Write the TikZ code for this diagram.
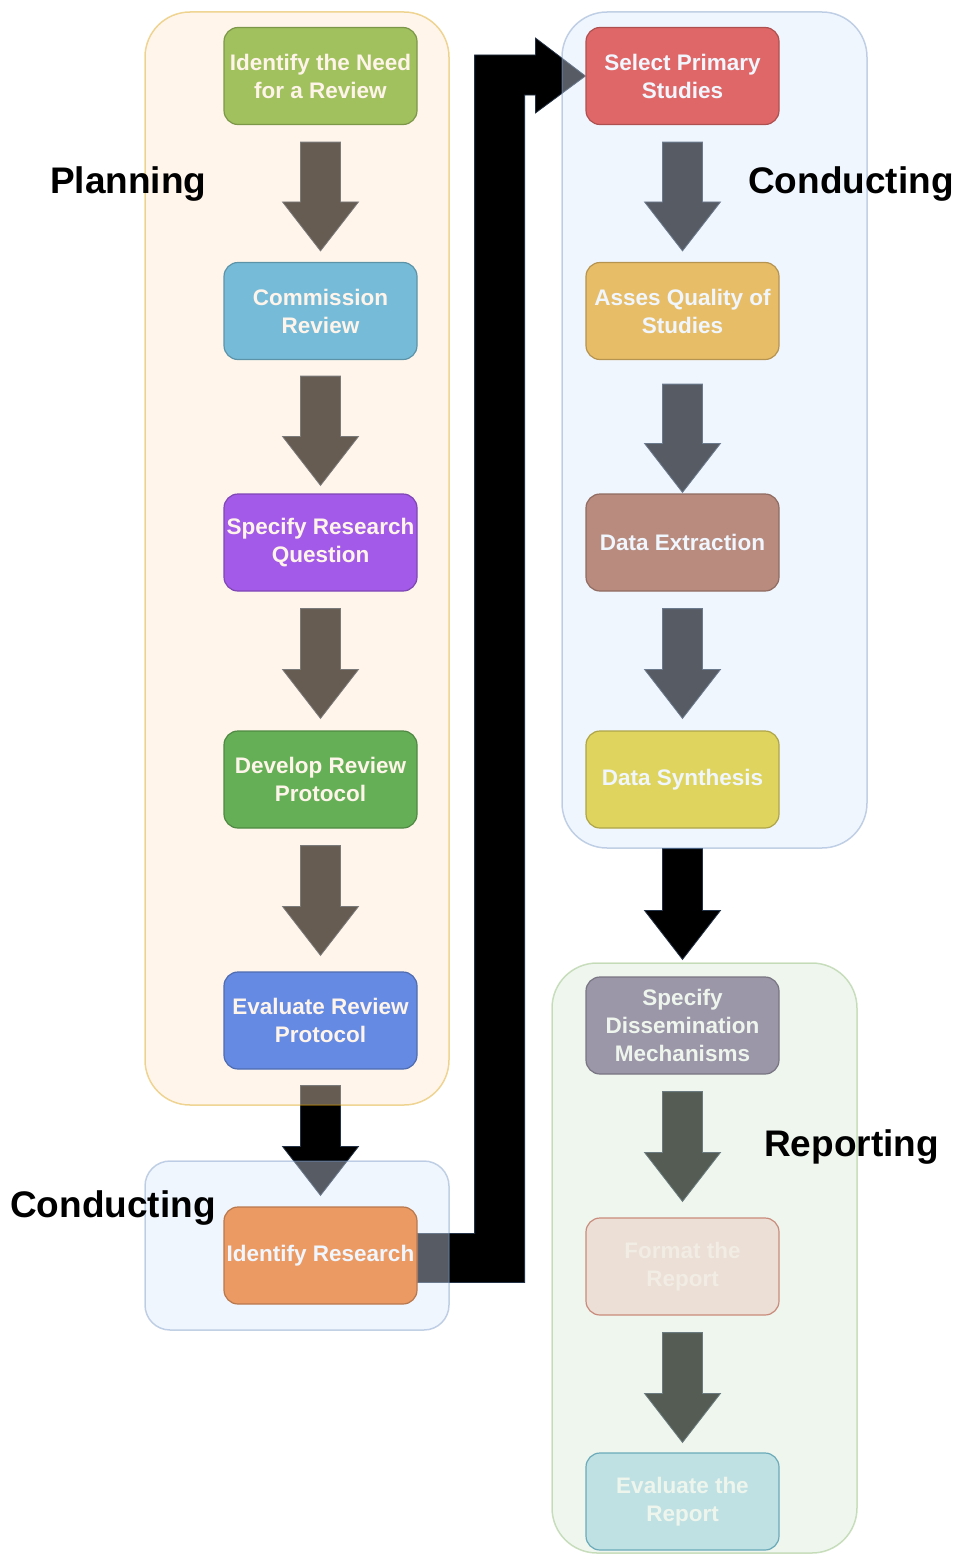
\documentclass[tikz,border=0pt]{standalone}
\usepackage{fontspec}
\newfontfamily\lsans{Liberation Sans}
\usetikzlibrary{calc}
\pgfdeclarelayer{arrowlayer}
\pgfdeclarelayer{grouplayer}
\pgfsetlayers{arrowlayer,grouplayer,main}

% group backgrounds
\definecolor{planfill}{HTML}{FFE6CC}\definecolor{planedge}{HTML}{D79B00}
\definecolor{condfill}{HTML}{DAE8FC}\definecolor{condedge}{HTML}{6C8EBF}
\definecolor{repfill}{HTML}{D5E8D4}\definecolor{repedge}{HTML}{82B366}
% step boxes
\definecolor{cneed}{HTML}{A0C15E}
\definecolor{ccomm}{HTML}{76BCD9}
\definecolor{cspec}{HTML}{A35AE8}
\definecolor{cdev}{HTML}{65B056}
\definecolor{ceval}{HTML}{658AE3}
\definecolor{cidr}{HTML}{EC9A63}
\definecolor{csel}{HTML}{E06767}
\definecolor{cqual}{HTML}{E8BD67}
\definecolor{cext}{HTML}{B88B7E}
\definecolor{csyn}{HTML}{DFD45E}
\definecolor{cdis}{HTML}{9B96A8}
\definecolor{cfmt}{HTML}{ECDFD6}\definecolor{cfmtedge}{HTML}{C98B7B}
\definecolor{cevr}{HTML}{BFE1E3}\definecolor{cevredge}{HTML}{6AAAB9}
% text tints
\definecolor{tplan}{HTML}{FFF4EA}
\definecolor{tcond}{HTML}{F0F6FE}
\definecolor{trep}{HTML}{EEF5ED}
\definecolor{tfmt}{HTML}{F1ECE4}
\definecolor{arrowedge}{RGB}{35,50,70}

\newcommand\boxfont{\lsans\bfseries\fontsize{22.5}{28}\selectfont}
\newcommand\phasefont{\lsans\bfseries\fontsize{37}{44}\selectfont}

\tikzset{
  stepbox/.style={rounded corners=14pt, minimum width=193pt, minimum height=97pt,
    inner sep=0pt, align=center, font=\boxfont, line width=1.2pt},
  tinted/.style={stepbox, fill=#1, draw=#1!78!black},
  blockarrow/.style={fill=black, draw=arrowedge, line width=0.8pt, line join=miter},
  group/.style={opacity=0.4, line width=1.5pt},
  phase/.style={font=\phasefont, text=black, inner sep=0pt, anchor=base west}
}

% vertical block arrow: from node, to node, gap below the first, gap above the second
\newcommand\stagearrow[4]{%
  \filldraw[blockarrow] let \p1=($(#1.south)+(0,#3)$), \p2=($(#2.north)+(0,-#4)$) in
    ({\x1-20pt},\y1) -- ({\x1+20pt},\y1) -- ({\x1+20pt},{\y2+49pt})
    -- ({\x1+38pt},{\y2+49pt}) -- (\x1,\y2) -- ({\x1-38pt},{\y2+49pt})
    -- ({\x1-20pt},{\y2+49pt}) -- cycle;}

\begin{document}
\begin{tikzpicture}[x=1pt,y=-1pt]
\useasboundingbox (0,0) rectangle (956,1555);

% ---- planning steps
\node[tinted=cneed, text=tplan] (need) at (320.5,76) {Identify the Need\\for a Review};
\node[tinted=ccomm, text=tplan] (comm) at (320.5,311) {Commission\\Review};
\node[tinted=cspec, text=tplan] (spec) at (320.5,542.5) {Specify Research\\Question};
\node[tinted=cdev,  text=tplan] (dev)  at (320.5,779.5) {Develop Review\\Protocol};
\node[tinted=ceval, text=tplan] (eval) at (320.5,1020.5) {Evaluate Review\\Protocol};
\node[tinted=cidr,  text=tcond] (idr)  at (320.5,1255.5) {Identify Research};

% ---- conducting steps
\node[tinted=csel,  text=tcond] (sel)  at (682.5,76) {Select Primary\\Studies};
\node[tinted=cqual, text=tcond] (qual) at (682.5,311) {Asses Quality of\\Studies};
\node[tinted=cext,  text=tcond] (ext)  at (682.5,542.5) {Data Extraction};
\node[tinted=csyn,  text=tcond] (syn)  at (682.5,779.5) {Data Synthesis};

% ---- reporting steps
\node[tinted=cdis, text=trep] (dis) at (682.5,1025.5) {Specify\\Dissemination\\Mechanisms};
\node[stepbox, fill=cfmt, draw=cfmtedge, text=tfmt] (fmt) at (682.5,1266.5) {Format the\\Report};
\node[stepbox, fill=cevr, draw=cevredge, text=trep] (evr) at (682.5,1501.5) {Evaluate the\\Report};

% ---- phase titles
\node[phase] (tplanning) at (50,193) {Planning};
\node[phase] (tcondtop) at (748,193) {Conducting};
\node[phase] (tcondbot) at (10,1217) {Conducting};
\node[phase] (treport) at (764,1156) {Reporting};

% ---- phase groups, translucent over the arrows
\begin{pgfonlayer}{grouplayer}
  \draw[group, fill=planfill, draw=planedge, rounded corners=45pt] (145,12) rectangle (449,1105);
  \draw[group, fill=condfill, draw=condedge, rounded corners=45pt] (562,12) rectangle (867,848);
  \draw[group, fill=condfill, draw=condedge, rounded corners=25pt] (145,1161) rectangle (449,1330);
  \draw[group, fill=repfill, draw=repedge, rounded corners=45pt] (552,963) rectangle (857,1553);
\end{pgfonlayer}

% ---- arrows
\begin{pgfonlayer}{arrowlayer}
  \stagearrow{need}{comm}{17}{11}
  \stagearrow{comm}{spec}{16}{8}
  \stagearrow{spec}{dev}{17}{12}
  \stagearrow{dev}{eval}{17}{16}
  \stagearrow{eval}{idr}{16}{11}
  \stagearrow{sel}{qual}{17}{11}
  \stagearrow{qual}{ext}{24}{1}
  \stagearrow{ext}{syn}{17}{12}
  \stagearrow{syn}{dis}{20}{17}
  \stagearrow{dis}{fmt}{17}{16}
  \stagearrow{fmt}{evr}{17}{10}
  % elbow connector from the conducting start to the primary study selection
  \filldraw[blockarrow] let \p1=(idr.east), \p2=(sel.west) in
    (\x1,{\y1+22pt}) -- ({\x1+57pt},{\y1+22pt}) -- ({\x1+57pt},{\y2+21pt})
    -- ({\x2-50pt},{\y2+21pt}) -- ({\x2-50pt},{\y2+38pt}) -- (\x2,\y2)
    -- ({\x2-50pt},{\y2-37pt}) -- ({\x2-50pt},{\y2-19pt})
    -- ({\x1+107pt},{\y2-19pt}) -- ({\x1+107pt},{\y1-27pt}) -- (\x1,{\y1-27pt}) -- cycle;
\end{pgfonlayer}
\end{tikzpicture}
\end{document}
